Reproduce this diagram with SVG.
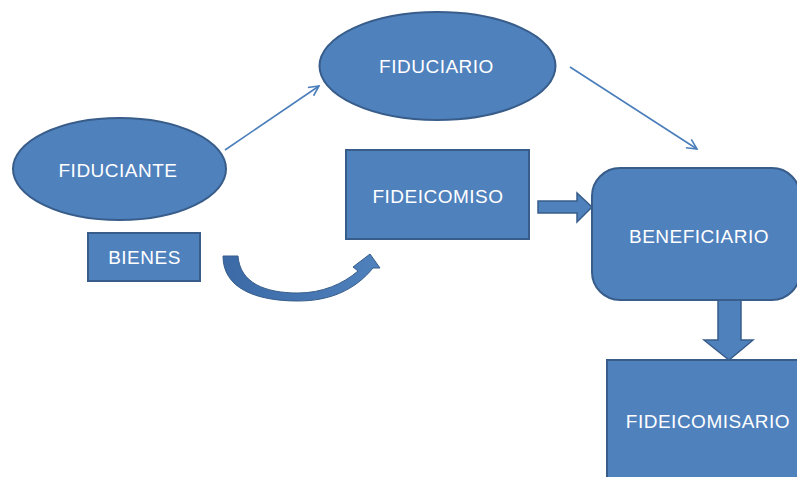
<svg xmlns="http://www.w3.org/2000/svg" width="797" height="477" viewBox="0 0 797 477">
<style>
.shape{fill:#4f81bd;stroke:#385d8a;stroke-width:2}
.lbl{fill:#ffffff;font-family:"Liberation Sans",Arial,sans-serif;font-size:19px;letter-spacing:0.5px;text-anchor:middle}
.conn{fill:none;stroke:#4a7ebb;stroke-width:1.6}
.block{fill:#4f81bd;stroke:#385d8a;stroke-width:1.5}
</style>
<defs>
<marker id="open" viewBox="0 0 12 12" refX="11" refY="6" markerWidth="12" markerHeight="12" markerUnits="userSpaceOnUse" orient="auto">
<path d="M1,1 L11,6 L1,11" fill="none" stroke="#4a7ebb" stroke-width="1.6"/>
</marker>
<linearGradient id="cg" x1="0" y1="0" x2="1" y2="0">
<stop offset="0" stop-color="#3b6aa6"/>
<stop offset="1" stop-color="#4f81bd"/>
</linearGradient>
</defs>
<rect width="797" height="477" fill="#ffffff"/>
<g id="connectors">
<line class="conn" x1="225" y1="150" x2="319" y2="86" marker-end="url(#open)"/>
<line class="conn" x1="570" y1="67" x2="697" y2="149" marker-end="url(#open)"/>
<path class="block" d="M538,201 L577,201 L577,193 L592,207 L577,222 L577,213 L538,213 Z"/>
<path class="block" d="M718,300 L741,300 L741,340 L753,340 L729,360 L704,340 L718,340 Z"/>
<path d="M223,256 L238,256 C240,283 265,293 298,293 C322,293 343,284 358,271 L353,267 L370,254 L380,268 L373,268 C355,290 330,301 298,301 C255,301 223,288 223,256 Z" fill="url(#cg)" stroke="#385d8a" stroke-width="1"/>
</g>
<g id="fiduciante">
<ellipse class="shape" cx="119.5" cy="169" rx="106.5" ry="51"/>
<text class="lbl" x="118" y="177">FIDUCIANTE</text>
</g>
<g id="bienes">
<rect class="shape" x="88" y="233" width="112" height="48"/>
<text class="lbl" x="144.5" y="264">BIENES</text>
</g>
<g id="fiduciario">
<ellipse class="shape" cx="437.5" cy="66" rx="118" ry="54"/>
<text class="lbl" x="436.5" y="73">FIDUCIARIO</text>
</g>
<g id="fideicomiso">
<rect class="shape" x="346" y="150" width="183" height="89"/>
<text class="lbl" x="438" y="203">FIDEICOMISO</text>
</g>
<g id="beneficiario">
<rect class="shape" x="592" y="168" width="208" height="132" rx="28" ry="28"/>
<text class="lbl" x="699" y="243">BENEFICIARIO</text>
</g>
<g id="fideicomisario">
<rect class="shape" x="607" y="360" width="200" height="130"/>
<text class="lbl" x="708" y="428">FIDEICOMISARIO</text>
</g>
</svg>
